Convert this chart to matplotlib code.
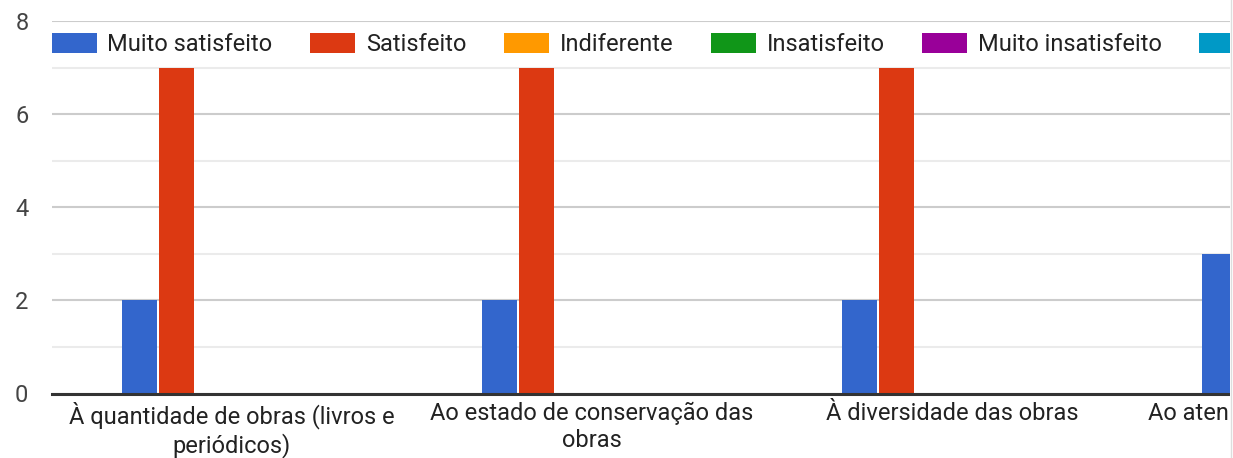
import matplotlib.pyplot as plt
import numpy as np
from matplotlib.lines import Line2D
from matplotlib.patches import Rectangle

categories = [
    "À quantidade de obras (livros e\nperiódicos)",
    "Ao estado de conservação das\nobras",
    "À diversidade das obras",
    "Ao atendimento dos servidores",
]
series = ["Muito satisfeito", "Satisfeito", "Indiferente", "Insatisfeito",
          "Muito insatisfeito", "Não se aplica"]
values = [
    [2, 2, 2, 3],
    [7, 7, 7, 6],
    [0, 0, 0, 0],
    [0, 0, 0, 0],
    [0, 0, 0, 0],
    [0, 0, 0, 0],
]
colors = ["#3366cc", "#dc3912", "#ff9900", "#109618", "#990099", "#0099c6"]

plt.rcParams['font.family'] = ['Roboto', 'DejaVu Sans']

W, H = 1233, 458
fig = plt.figure(figsize=(W / 100, H / 100), dpi=100)
# axes runs past the right edge, the picture is cropped there
left, right, bottom, top = 52, 52 + 360 * 4, 393.5, 21
ax = fig.add_axes([left / W, (H - bottom) / H, (right - left) / W, (bottom - top) / H])

x = np.arange(len(categories))
slot = 37 / 360
bw = 35 / 360
for i, (name, vals, c) in enumerate(zip(series, values, colors)):
    ax.bar(x + (i - 2.5) * slot, vals, width=bw, color=c, label=name, zorder=3)

ax.set_xlim(-0.5, len(categories) - 0.5)
ax.set_ylim(0, 8)
ax.set_yticks([0, 2, 4, 6, 8])
ax.set_yticks([1, 3, 5, 7], minor=True)
ax.grid(axis='y', which='major', color='#cccccc', lw=1.5, zorder=0)
ax.grid(axis='y', which='minor', color='#ebebeb', lw=1.5, zorder=0)
ax.set_xticks(x)
ax.set_xticklabels(categories, fontsize=17, color='#222222')
ax.tick_params(axis='x', length=0, pad=6)
ax.tick_params(axis='y', which='both', length=0, pad=17, labelsize=17, labelcolor='#444444')
for s in ['top', 'right', 'left']:
    ax.spines[s].set_visible(False)
ax.spines['bottom'].set_color('#333333')
ax.spines['bottom'].set_linewidth(2.2)
ax.spines['bottom'].set_zorder(4)

ax.legend(loc='center left', bbox_to_anchor=(-0.5, 7.5), bbox_transform=ax.transData,
          ncol=6, frameon=False, fontsize=17, handlelength=1.9, handleheight=0.92,
          handletextpad=0.45, columnspacing=1.6, borderpad=0, borderaxespad=0,
          labelcolor='#222222')

# cropped edge of the original screenshot
fig.patches.append(Rectangle((1230 / W, 0), 3 / W, 1, transform=fig.transFigure,
                             facecolor='white', edgecolor='none', zorder=10))
fig.lines.append(Line2D([1230.5 / W, 1230.5 / W], [0, 1], transform=fig.transFigure,
                        color='#dddddd', lw=1, zorder=11))

fig.savefig('out.png', dpi=100)
